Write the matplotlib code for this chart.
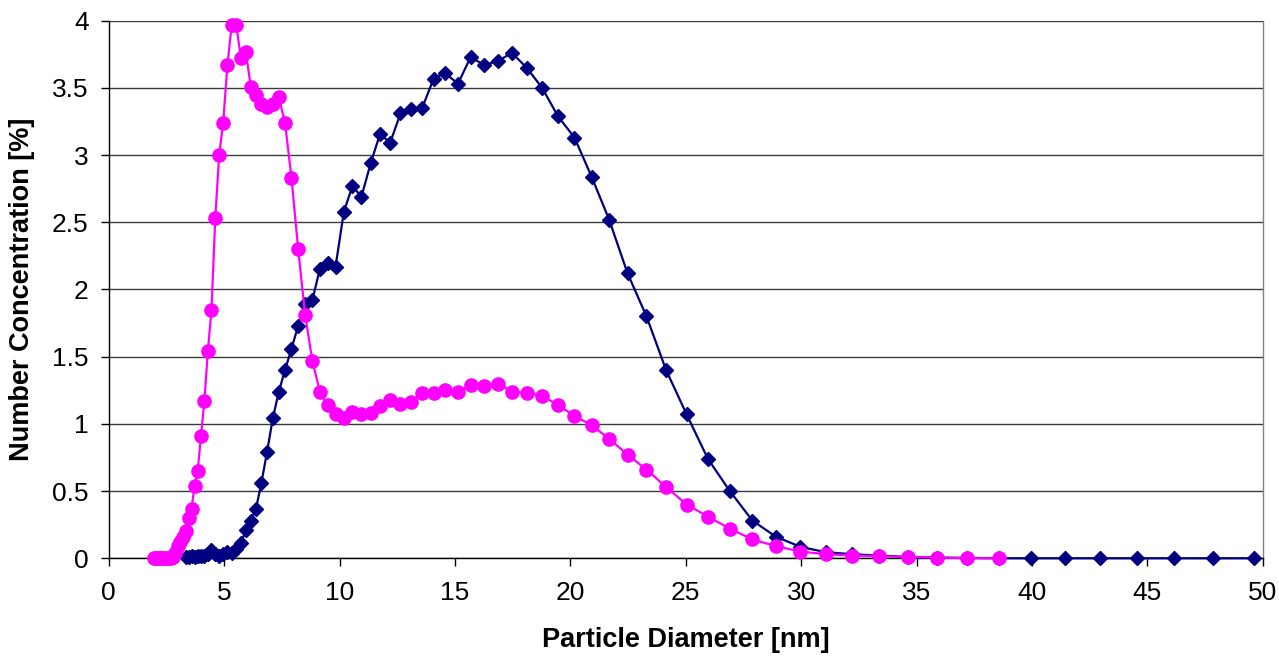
import matplotlib
matplotlib.use("Agg")
import matplotlib.pyplot as plt

plt.rcParams['font.family'] = ['Liberation Sans', 'DejaVu Sans']

# particle diameter channels [nm] and number concentration [%]
navy_diam = [3.339, 3.461, 3.588, 3.720, 3.856, 3.997, 4.144, 4.295, 4.453, 4.616,
             4.785, 4.960, 5.142, 5.330, 5.526, 5.728, 5.938, 6.156, 6.381, 6.615,
             6.858, 7.109, 7.369, 7.639, 7.919, 8.209, 8.510, 8.822, 9.145, 9.480,
             9.827, 10.19, 10.56, 10.95, 11.35, 11.76, 12.19, 12.64, 13.10, 13.58,
             14.08, 14.59, 15.13, 15.68, 16.26, 16.85, 17.47, 18.11, 18.78, 19.46,
             20.18, 20.92, 21.68, 22.48, 23.30, 24.15, 25.04, 25.96, 26.91, 27.89,
             28.91, 29.97, 31.07, 32.21, 33.39, 34.61, 35.88, 37.20, 38.56, 39.97,
             41.43, 42.95, 44.53, 46.16, 47.85, 49.60]
navy_conc = [0.01, 0.01, 0.015, 0.01, 0.015, 0.015, 0.02, 0.03, 0.06, 0.03,
             0.02, 0.03, 0.05, 0.04, 0.07, 0.11, 0.21, 0.28, 0.37, 0.56,
             0.79, 1.04, 1.24, 1.40, 1.56, 1.73, 1.89, 1.92, 2.15, 2.20,
             2.17, 2.58, 2.77, 2.69, 2.94, 3.16, 3.09, 3.31, 3.34, 3.35,
             3.57, 3.61, 3.53, 3.73, 3.67, 3.70, 3.76, 3.65, 3.50, 3.29,
             3.13, 2.84, 2.52, 2.12, 1.80, 1.40, 1.07, 0.74, 0.50, 0.28,
             0.16, 0.085, 0.045, 0.03, 0.02, 0.01, 0.005, 0.003, 0.0, 0.0,
             0.0, 0.0, 0.0, 0.0, 0.0, 0.0]

pink_diam = [1.946, 2.018, 2.092, 2.168, 2.248, 2.330, 2.415, 2.504, 2.596, 2.691,
             2.789, 2.892, 2.997, 3.107, 3.221, 3.339, 3.461, 3.588, 3.720, 3.856,
             3.997, 4.144, 4.295, 4.453, 4.616, 4.785, 4.960, 5.142, 5.330, 5.526,
             5.728, 5.938, 6.156, 6.381, 6.615, 6.858, 7.109, 7.369, 7.639, 7.919,
             8.209, 8.510, 8.822, 9.145, 9.480, 9.827, 10.19, 10.56, 10.95, 11.35,
             11.76, 12.19, 12.64, 13.10, 13.58, 14.08, 14.59, 15.13, 15.68, 16.26,
             16.85, 17.47, 18.11, 18.78, 19.46, 20.18, 20.92, 21.68, 22.48, 23.30,
             24.15, 25.04, 25.96, 26.91, 27.89, 28.91, 29.97, 31.07, 32.21, 33.39,
             34.61, 35.88, 37.20, 38.56]
pink_conc = [0.0, 0.0, 0.0, 0.0, 0.0, 0.0, 0.0, 0.0, 0.0, 0.0,
             0.01, 0.04, 0.09, 0.12, 0.16, 0.20, 0.30, 0.37, 0.54, 0.65,
             0.91, 1.17, 1.54, 1.85, 2.53, 3.00, 3.24, 3.67, 3.97, 3.97,
             3.72, 3.77, 3.51, 3.45, 3.38, 3.36, 3.38, 3.43, 3.24, 2.83,
             2.30, 1.81, 1.47, 1.24, 1.14, 1.07, 1.04, 1.09, 1.07, 1.08,
             1.13, 1.18, 1.15, 1.16, 1.23, 1.23, 1.25, 1.24, 1.29, 1.28,
             1.30, 1.24, 1.23, 1.21, 1.14, 1.06, 0.99, 0.89, 0.77, 0.66,
             0.53, 0.40, 0.31, 0.22, 0.14, 0.09, 0.05, 0.03, 0.02, 0.015,
             0.01, 0.005, 0.0, 0.0]

x_ticks = [0, 5, 10, 15, 20, 25, 30, 35, 40, 45, 50]
y_ticks = [0, 0.5, 1, 1.5, 2, 2.5, 3, 3.5, 4]
y_tick_labels = ['0', '0.5', '1', '1.5', '2', '2.5', '3', '3.5', '4']

fig = plt.figure(figsize=(12.79, 6.56), dpi=100)
ax = fig.add_axes([0.085, 0.149, 0.9023, 0.8194])

ax.plot(navy_diam, navy_conc, color='#000080', linewidth=1.6, marker='D',
        markersize=7, markeredgecolor='#000080', markerfacecolor='#000080',
        clip_on=False, zorder=3)
ax.plot(pink_diam, pink_conc, color='#FF00FF', linewidth=1.6, marker='o',
        markersize=9.5, markeredgecolor='#FF00FF', markerfacecolor='#FF00FF',
        clip_on=False, zorder=4)

ax.set_xlim(0, 50)
ax.set_ylim(0, 4)
ax.set_xticks(x_ticks)
ax.set_yticks(y_ticks)
ax.set_yticklabels(y_tick_labels)
ax.tick_params(axis='both', direction='out', length=5.5, width=1, labelsize=19,
               colors='black')
ax.tick_params(axis='x', pad=11)
ax.tick_params(axis='y', pad=9)

ax.grid(axis='y', color='#3a3a3a', linewidth=1)
ax.set_axisbelow(True)

for side in ('left', 'bottom'):
    ax.spines[side].set_color('black')
    ax.spines[side].set_linewidth(1)
ax.spines['top'].set_visible(False)
ax.spines['right'].set_color('#808080')
ax.spines['right'].set_linewidth(1)

ax.set_xlabel('Particle Diameter [nm]', fontsize=19.5, fontweight='bold')
ax.set_ylabel('Number Concentration [%]', fontsize=19.5, fontweight='bold')
ax.xaxis.set_label_coords(0.5, -0.128)
ax.yaxis.set_label_coords(-0.064, 0.5)

fig.savefig('out.png', dpi=100)
